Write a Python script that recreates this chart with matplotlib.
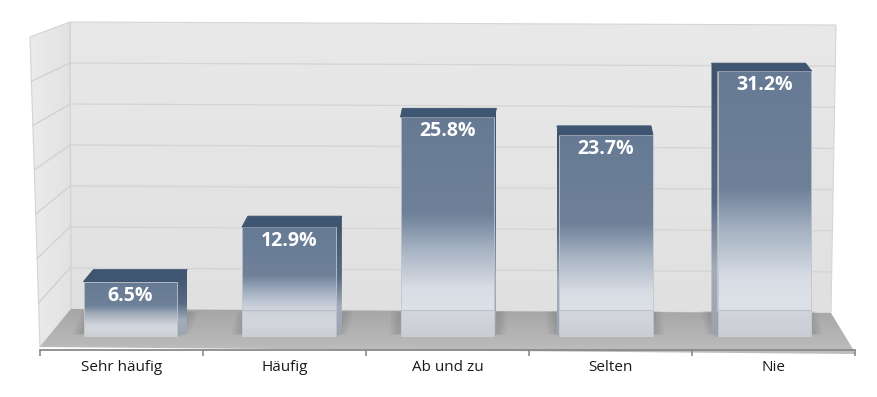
import numpy as np
import matplotlib.pyplot as plt
from matplotlib.patches import Polygon
from matplotlib.colors import LinearSegmentedColormap

categories = ['Sehr häufig', 'Häufig', 'Ab und zu', 'Selten', 'Nie']
values = [6.5, 12.9, 25.8, 23.7, 31.2]
value_labels = ['6.5%', '12.9%', '25.8%', '23.7%', '31.2%']
ymax = 35
ystep = 5

W, H = 878, 397
fig = plt.figure(figsize=(W / 100, H / 100), dpi=100)
fig.patch.set_facecolor('white')

# background axes in pixel coords (walls, floor)
bg = fig.add_axes([0, 0, 1, 1])
bg.set_xlim(0, W)
bg.set_ylim(H, 0)
bg.axis('off')


def grad_poly(axis, pts, cmap, vertical=True, z=1):
    poly = Polygon(pts, closed=True, fc='none', ec='none', zorder=z)
    axis.add_patch(poly)
    xs = [p[0] for p in pts]
    ys = [p[1] for p in pts]
    g = np.linspace(0, 1, 256).reshape(-1, 1)
    if not vertical:
        g = g.T
    im = axis.imshow(g, cmap=cmap, aspect='auto', origin='lower',
                     extent=(min(xs), max(xs), min(ys), max(ys)), zorder=z,
                     interpolation='bilinear')
    im.set_clip_path(poly)
    return poly


# back wall / side wall / floor corners (pixels)
bl, br = (71, 309), (831, 313)
tl, tr = (70, 22), (836, 25)
side_top, side_bot = (30, 37), (40, 347)
floor_fr = (856, 354)

wall_cm = LinearSegmentedColormap.from_list('w', ['#e9e9e9', '#e0e0e0'])
grad_poly(bg, [tl, tr, br, bl], wall_cm, z=1)
bg.add_patch(Polygon([tl, tr, br, bl], closed=True, fc='none', ec='#d6d6d6', lw=0.8, zorder=2))
side_cm = LinearSegmentedColormap.from_list('s', ['#ececec', '#e2e2e2'])
grad_poly(bg, [side_top, tl, bl, side_bot], side_cm, vertical=False, z=1)
bg.add_patch(Polygon([side_top, tl, bl, side_bot], closed=True, fc='none', ec='#d3d3d3', lw=0.8, zorder=2))

# grid lines on walls
for v in range(ystep, ymax, ystep):
    yl = bl[1] - (bl[1] - tl[1]) * v / ymax
    yr = br[1] - (br[1] - tr[1]) * v / ymax
    xr = br[0] + (tr[0] - br[0]) * v / ymax
    xf = side_bot[0] + (side_top[0] - side_bot[0]) * v / ymax
    yf = side_bot[1] + (side_top[1] - side_bot[1]) * v / ymax
    bg.plot([tl[0], xr], [yl, yr], color='#d4d4d4', lw=0.9, zorder=2)
    bg.plot([xf, tl[0]], [yf, yl], color='#d0d0d0', lw=0.9, zorder=2)

floor_cm = LinearSegmentedColormap.from_list('f', ['#a6a6a6', '#b2b2b2', '#bebebe'])
grad_poly(bg, [bl, br, floor_fr, side_bot], floor_cm, z=2)

# data axes for the bars
ax = fig.add_axes([51.25 / W, (H - 337) / H, 792.5 / W, ymax * 8.53 / H])
ax.set_facecolor('none')
ax.axis('off')
x = np.arange(len(categories))
bw = 0.593
sx = 792.5 / len(categories)
sy = 8.53
floor_depth = 27 / sy

front_cm = LinearSegmentedColormap.from_list('b', [
    (0.0, '#d2d7de'), (0.12, '#dde2e8'), (0.22, '#d8dde5'), (0.40, '#a6b2c2'),
    (0.50, '#8192a8'), (0.56, '#6f8199'), (1.0, '#667a94')])
side_cmap = LinearSegmentedColormap.from_list('sd', [
    (0.0, '#9aa3ae'), (0.25, '#a3acb9'), (0.5, '#566a84'), (1.0, '#3e516b')])

bars = ax.bar(x, values, width=bw, color='none', zorder=3)
for i, b in enumerate(bars):
    x0, h = b.get_x(), b.get_height()
    x1 = x0 + b.get_width()
    cx = x0 + b.get_width() / 2
    dxp = -(cx * sx + 51.25 - 445) * 0.025
    dyp = 13 - 0.17 * h
    dx, dy = dxp / sx, dyp / sy
    # soft shadow on floor
    for k, a in enumerate([0.10, 0.12, 0.14]):
        pad = 0.07 - k * 0.02
        ax.add_patch(Polygon([(x0 - pad, 0.3), (x1 + pad, 0.3), (x1 + pad + dx, 3.0), (x0 - pad + dx, 3.0)],
                             closed=True, fc='#707070', ec='none', alpha=a, zorder=2))
    # front face
    ax.imshow(np.linspace(0, 1, 256).reshape(-1, 1), cmap=front_cm, origin='lower',
              aspect='auto', extent=(x0, x1, 0, h), zorder=3, interpolation='bilinear')
    # floor seen through the lower part
    ax.add_patch(Polygon([(x0, 0), (x1, 0), (x1, min(h, floor_depth)), (x0, min(h, floor_depth))],
                         closed=True, fc='#a9a9a9', ec='none', alpha=0.18, zorder=3.5))
    ax.plot([x0, x1], [floor_depth, floor_depth], color='#8d96a3', lw=0.8, alpha=0.3, zorder=3.6)
    ax.add_patch(Polygon([(x0, 0), (x1, 0), (x1, h), (x0, h)], closed=True, fc='none',
                         ec='#c0c6ce', lw=0.6, zorder=4))
    # side face
    if abs(dxp) > 1.5:
        xe = x1 if dx > 0 else x0
        sp = [(xe, 0), (xe + dx, dy * 0.4), (xe + dx, h + dy), (xe, h)]
        poly = Polygon(sp, closed=True, fc='none', ec='none', zorder=3)
        ax.add_patch(poly)
        ims = ax.imshow(np.linspace(0, 1, 256).reshape(-1, 1), cmap=side_cmap, origin='lower',
                        aspect='auto', extent=(min(xe, xe + dx), max(xe, xe + dx), 0, h + dy),
                        zorder=3, interpolation='bilinear')
        ims.set_clip_path(poly)
    # top face
    ax.add_patch(Polygon([(x0, h), (x1, h), (x1 + dx, h + dy), (x0 + dx, h + dy)], closed=True,
                         fc='#3f5673', ec='#3a4f6a', lw=0.6, zorder=5))
    ax.text(cx, h - 14 / sy, value_labels[i], ha='center', va='center', color='white',
            fontsize=14, fontweight='bold', family='Open Sans', zorder=6)

ax.set_xlim(-0.5, len(categories) - 0.5)
ax.set_ylim(0, ymax)

# category axis along the front edge of the floor
fx = fig.add_axes([40 / W, (H - 350) / H, 815 / W, 0.001])
fx.set_facecolor('none')
fx.set_xlim(-0.5, len(categories) - 0.5)
for s in ['top', 'left', 'right']:
    fx.spines[s].set_visible(False)
fx.spines['bottom'].set_color('#8a8a8a')
fx.spines['bottom'].set_linewidth(1.3)
fx.set_yticks([])
fx.set_xticks(x)
fx.set_xticklabels(categories, family='Open Sans', fontsize=11, color='#1a1a1a')
fx.tick_params(axis='x', which='major', length=0, pad=7)
fx.set_xticks(np.arange(-0.5, len(categories)), minor=True)
fx.tick_params(axis='x', which='minor', length=4, color='#8a8a8a', width=1.2)

fig.savefig('out.png', dpi=100, facecolor='white')
